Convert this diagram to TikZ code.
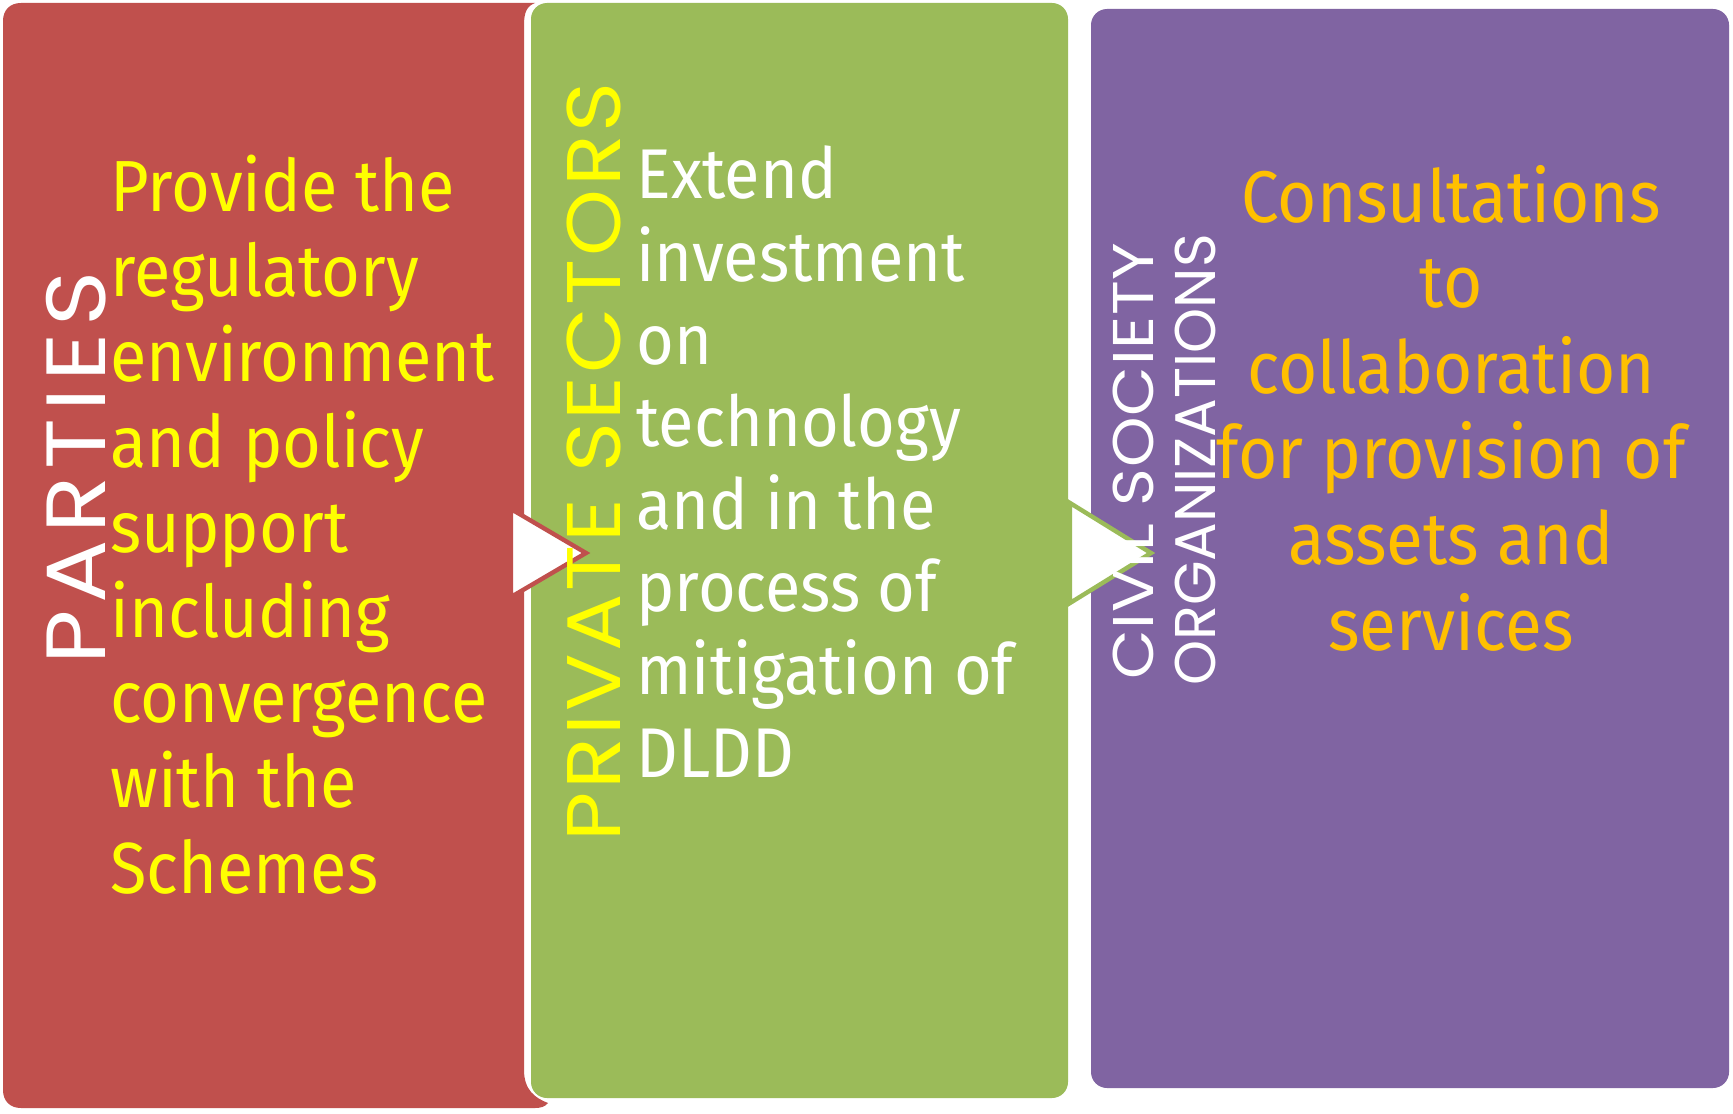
\documentclass[tikz,border=0pt]{standalone}
\usepackage{fontspec}
\newfontfamily\bodyfont[FakeStretch=0.92]{Fira Sans}
\newfontfamily\headfont{Poppins}
\newfontfamily\wideheadfont[FakeStretch=1.12]{Poppins}
\definecolor{partiesred}{HTML}{C0504D}
\definecolor{privategreen}{HTML}{9BBB59}
\definecolor{civilpurple}{HTML}{8064A2}
\definecolor{bodyyellow}{HTML}{FFFF00}
\definecolor{bodyorange}{HTML}{FFC000}

\begin{document}
\begin{tikzpicture}[x=0.5pt,y=-0.5pt,
    panel/.style={rounded corners=8pt},
    pointer/.style={fill=white,line width=2.2pt,line join=miter},
    heading/.style={rotate=90,anchor=base,inner sep=0pt},
    body/.style={anchor=base west,inner sep=0pt,align=left},
    bodycentre/.style={anchor=base,inner sep=0pt,align=center}]
    \useasboundingbox (0,0) rectangle (1733,1113);
    \fill[white] (0,0) rectangle (1733,1113);

    \fill[partiesred] (21,3) -- (535,3) .. controls (527,6) and (524,12) .. (524,25)
        -- (524,1070) .. controls (524,1090) and (535,1098) .. (548,1103)
        .. controls (545,1107) and (540,1108) .. (535,1108) -- (21,1108)
        .. controls (10,1108) and (3,1101) .. (3,1090) -- (3,21)
        .. controls (3,10) and (10,3) .. (21,3) -- cycle;
    \fill[privategreen,panel] (531,3) rectangle (1068,1098);
    \fill[civilpurple,panel] (1091,9) rectangle (1729,1088);

    \draw[pointer,draw=partiesred] (511,509) -- (586,553) -- (511,597) -- cycle;
    \draw[pointer,draw=privategreen] (1070,503) -- (1151,553) -- (1070,603) -- cycle;

    \node[heading,white,font=\wideheadfont\fontsize{42}{42}\selectfont\addfontfeature{LetterSpace=8}] (partieshead) at (105,468) {PARTIES};
    \node[heading,bodyyellow,font=\wideheadfont\fontsize{38}{38}\selectfont\addfontfeature{LetterSpace=3.7}] (privatehead) at (620,462) {PRIVATE SECTORS};
    \node[heading,white,font=\wideheadfont\fontsize{28.7}{28.7}\selectfont\addfontfeature{LetterSpace=1.3}] (civilhead) at (1153,461) {CIVIL SOCIETY};
    \node[heading,white,font=\headfont\fontsize{28.7}{28.7}\selectfont] (organizationshead) at (1215,460) {ORGANIZATIONS};

    \node[body,bodyyellow,font=\bodyfont\fontsize{36.2}{42.6}\selectfont] (partiestext) at (110,893)
        {Provide the\\regulatory\\environment\\and policy\\support\\including\\convergence\\with the\\Schemes};
    \node[body,white,font=\bodyfont\fontsize{35.2}{41.3}\selectfont] (privatetext) at (636,777)
        {Extend\\investment\\on\\technology\\and in the\\process of\\mitigation of\\DLDD};
    \node[bodycentre,bodyorange,font=\bodyfont\fontsize{36.6}{42.8}\selectfont] (civiltext) at (1451,650)
        {Consultations\\to\\collaboration\\for provision of\\assets and\\services};
\end{tikzpicture}
\end{document}
